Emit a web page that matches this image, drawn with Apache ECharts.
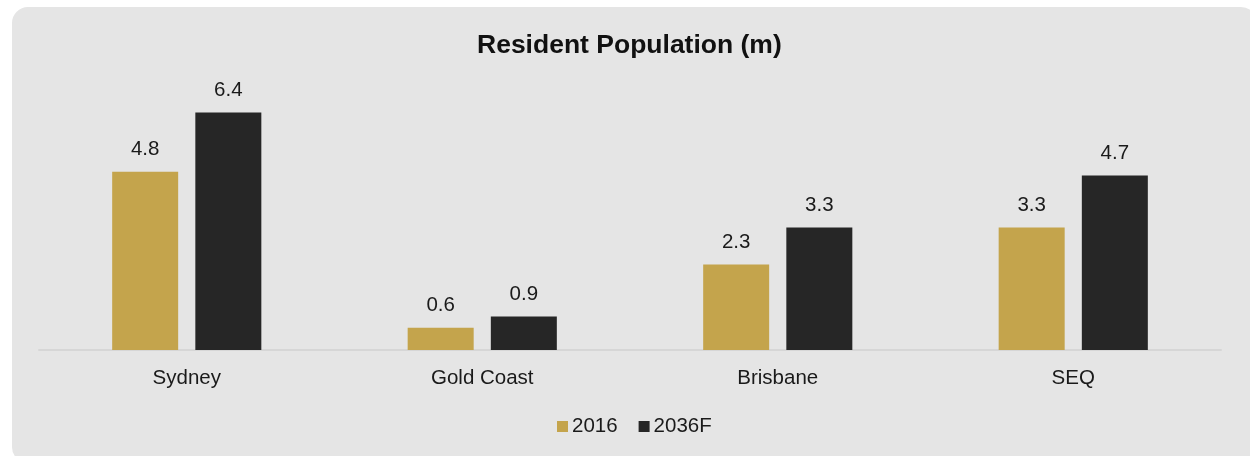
<!DOCTYPE html>
<html>
<head>
<meta charset="utf-8">
<script src="https://cdn.jsdelivr.net/npm/echarts@6/dist/echarts.min.js"></script>
<style>
  html, body { margin: 0; padding: 0; background: #fff; }
  #chart { width: 1250px; height: 456px; }
</style>
</head>
<body>
<div id="chart"></div>
<script>
let categories = ['Sydney', 'Gold Coast', 'Brisbane', 'SEQ'];
let seriesNames = ['2016', '2036F'];
let values2016 = [4.8, 0.6, 2.3, 3.3];
let values2036 = [6.4, 0.9, 3.3, 4.7];
let colors = ['#c4a44c', '#262626'];

let myChart = echarts.init(document.getElementById('chart'));
let font = '"Liberation Sans", Arial, sans-serif';

let labelStyle = {
  show: true,
  position: 'top',
  distance: 12,
  fontFamily: font,
  fontSize: 20.5,
  color: '#1a1a1a'
};

let option = {
  animation: false,
  backgroundColor: '#fff',
  graphic: [{
    type: 'rect',
    z: -10,
    shape: { x: 12, y: 7, width: 1245, height: 456, r: 16 },
    style: { fill: '#e5e5e5' }
  }],
  title: {
    text: 'Resident Population (m)',
    left: 472,
    top: 27,
    textStyle: { fontFamily: font, fontSize: 26.5, fontWeight: 'bold', color: '#111' }
  },
  legend: {
    data: seriesNames,
    bottom: 14,
    left: 552,
    icon: 'rect',
    itemWidth: 11,
    itemHeight: 11,
    itemGap: 21,
    textStyle: { fontFamily: font, fontSize: 20.5, color: '#1a1a1a', padding: [0, 0, 0, -1] }
  },
  grid: { left: 39, right: 29, top: 53, bottom: 106 },
  xAxis: {
    type: 'category',
    data: categories,
    axisLine: { lineStyle: { color: '#d6d6d6', width: 2 } },
    axisTick: { show: false },
    axisLabel: { fontFamily: font, fontSize: 20.5, color: '#1a1a1a', margin: 18 }
  },
  yAxis: {
    type: 'value',
    min: 0,
    max: 8,
    show: false,
    splitLine: { show: false }
  },
  series: [
    {
      name: seriesNames[0],
      type: 'bar',
      data: values2016,
      barWidth: 66,
      barGap: '26%',
      itemStyle: { color: colors[0] },
      label: labelStyle
    },
    {
      name: seriesNames[1],
      type: 'bar',
      data: values2036,
      barWidth: 66,
      itemStyle: { color: colors[1] },
      label: labelStyle
    }
  ]
};

myChart.setOption(option);
</script>
</body>
</html>
